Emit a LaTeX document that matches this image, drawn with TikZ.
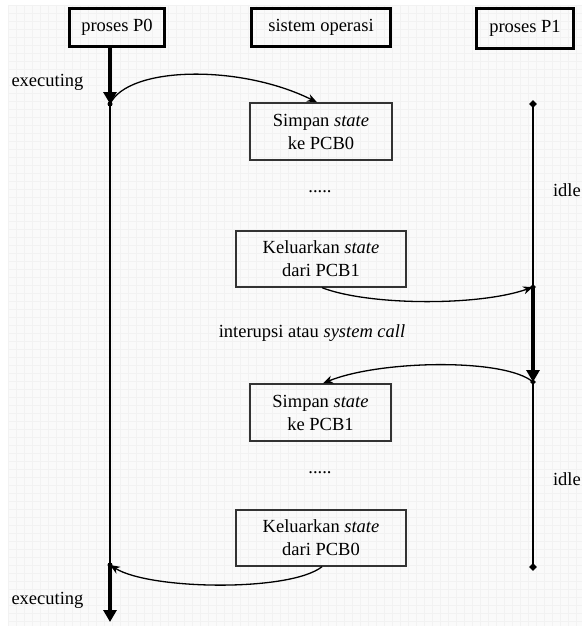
\documentclass[tikz,border=0pt]{standalone}
\usepackage{fontspec}
\setmainfont{Liberation Serif}
\usetikzlibrary{arrows.meta,shapes.geometric}
\begin{document}
\begin{tikzpicture}[x=1pt,y=-1pt,
  txt/.style={font=\fontsize{18.5}{23}\selectfont},
  hdr/.style={txt, draw, line width=2.8pt, inner sep=0pt},
  opbox/.style={txt, draw=black!80, line width=1.4pt, align=center, inner sep=0pt},
  thinln/.style={line width=1.3pt},
  thickln/.style={line width=3.4pt},
  bigtip/.style={-{Triangle[length=12pt,width=13pt]}},
  smalltip/.style={-{Stealth[length=10pt,width=8pt]}},
  dia/.style={diamond, fill=black, inner sep=0pt, minimum size=8pt},
  gridln/.style={black!5, line width=0.6pt}
]
\useasboundingbox (0,0) rectangle (582,626);
\fill[white] (0,0) rectangle (582,626);
\fill[black!2] (8,5) rectangle (582,626);
\foreach \gx in {8,16,...,582} \draw[gridln] (\gx,5) -- (\gx,626);
\foreach \gy in {5,13,...,626} \draw[gridln] (8,\gy) -- (582,\gy);

% headers
\node[hdr, minimum width=95pt, minimum height=38pt] (h0) at (117,27.5) {proses P0};
\node[hdr, minimum width=139pt, minimum height=38pt] (hs) at (321,27.5) {sistem operasi};
\node[hdr, minimum width=97pt, minimum height=40pt] (h1) at (525,28.5) {proses P1};

% OS boxes
\node[opbox, minimum width=142pt, minimum height=57pt] (b1) at (321,131.5) {Simpan \textit{state}\\ke PCB0};
\node[opbox, minimum width=170pt, minimum height=56pt] (b2) at (321,259) {Keluarkan \textit{state}\\dari PCB1};
\node[opbox, minimum width=141pt, minimum height=57pt] (b3) at (320.5,412.5) {Simpan \textit{state}\\ke PCB1};
\node[opbox, minimum width=170pt, minimum height=56pt] (b4) at (321,538) {Keluarkan \textit{state}\\dari PCB0};

\node[txt] (d1) at (320,192) {.....};
\node[txt] (d2) at (320,473) {.....};
\node[txt] (intr) at (312,333) {interupsi atau \textit{system call}};

\node[txt, anchor=west] (ex1) at (8,82) {executing};
\node[txt, anchor=west] (ex2) at (8,600) {executing};
\node[txt, anchor=east, inner xsep=1pt] (id1) at (582,190) {idle};
\node[txt, anchor=east, inner xsep=1pt] (id2) at (582,479) {idle};

% P0 timeline
\coordinate (p0a) at (110,104);
\coordinate (p0b) at (110,565);
\coordinate (p0end) at (110,622);
\draw[thickln, bigtip] (h0.south -| p0a) -- (p0a);
\draw[thinln] (p0a) -- (p0b);
\draw[thickln, bigtip] (p0b) -- (p0end);
\fill (p0a) circle (2.5pt);
\fill (p0b) circle (2.5pt);

% P1 timeline
\coordinate (p1top) at (533,104);
\coordinate (p1a) at (533,287);
\coordinate (p1b) at (533,382);
\coordinate (p1bot) at (533,567);
\draw[thinln] (p1top) -- (p1a);
\draw[thickln, bigtip] (p1a) -- (p1b);
\draw[thinln] (p1b) -- (p1bot);
\node[dia] (t1) at (p1top) {};
\node[dia] (t2) at (p1bot) {};
\node[dia, minimum size=6pt] (t3) at (p1a) {};
\node[dia, minimum size=6pt] (t4) at (p1b) {};

% switches
\draw[thinln, smalltip] (p0a) .. controls (128,66) and (240,64) .. (b1.north -| 317,0);
\draw[thinln, smalltip] (b2.south -| 322,0) .. controls (370,306) and (480,306) .. (p1a);
\draw[thinln, smalltip] (p1b) .. controls (505,358) and (380,360) .. (b3.north -| 323,0);
\draw[thinln, smalltip] (b4.south -| 322,0) .. controls (290,592) and (150,590) .. (p0b);
\end{tikzpicture}
\end{document}
